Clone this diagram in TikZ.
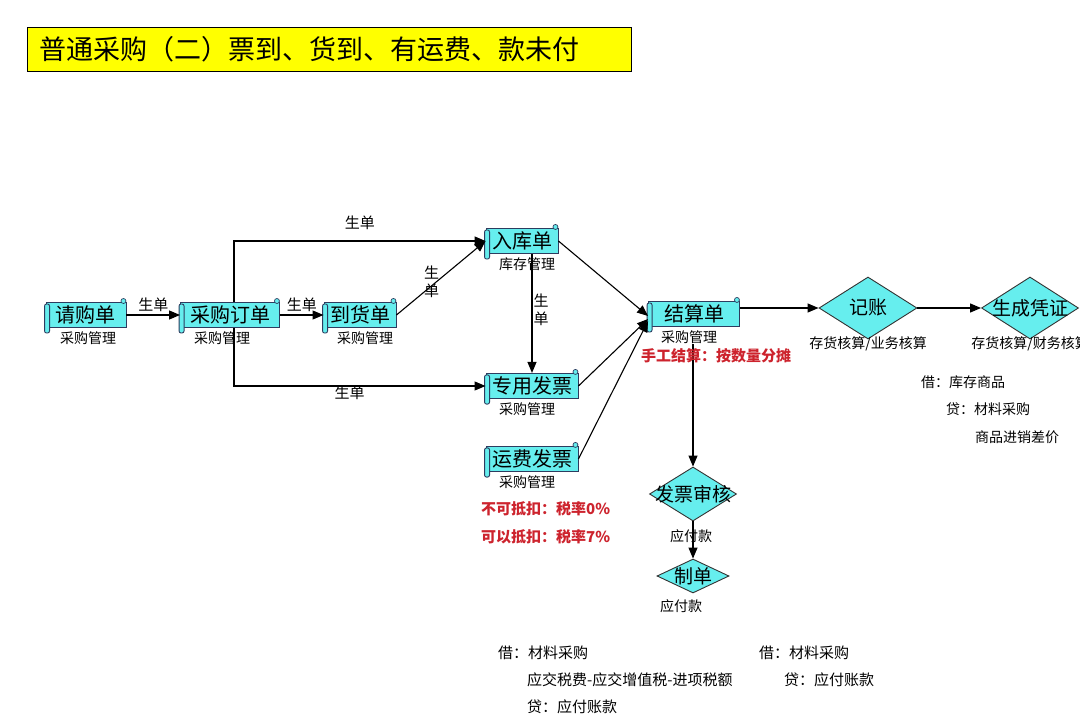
\documentclass[tikz,border=0pt]{standalone}
\usepackage{fontspec}
\setmainfont{Noto Sans CJK SC}
\usetikzlibrary{arrows.meta,positioning,shapes.geometric}

\definecolor{scrollfill}{RGB}{102,238,238}
\definecolor{scrollline}{RGB}{45,60,95}
\definecolor{titlefill}{RGB}{255,255,0}
\definecolor{notered}{RGB}{205,35,45}

\tikzset{
  scroll/.style={draw=scrollline, fill=scrollfill, line width=0.9pt, minimum height=25pt, inner xsep=6pt, font=\fontsize{20}{22}\selectfont},
  module/.style={font=\fontsize{14}{16}\selectfont, inner sep=1pt},
  decision/.style={diamond, draw=black!80, fill=scrollfill, line width=0.9pt, inner sep=-6pt, font=\fontsize{19}{21}\selectfont},
  flow/.style={line width=1.1pt, -{Triangle[length=11pt,width=9pt]}},
  edgelabel/.style={font=\fontsize{15}{18}\selectfont, inner sep=1pt},
  note/.style={font=\fontsize{14}{16}\selectfont, anchor=west, inner sep=0pt},
  rednote/.style={note, text=notered, font=\fontsize{15}{17}\selectfont\bfseries}
}

\begin{document}
\begin{tikzpicture}[x=1pt, y=-1pt]
  \useasboundingbox (0,0) rectangle (1080,722);
  \fill[white] (0,0) rectangle (1080,722);

  % title
  \node[draw, line width=1.2pt, fill=titlefill, anchor=north west, minimum height=44pt, text width=580pt, inner xsep=12pt, font=\fontsize{27}{29}\selectfont] (title) at (27,27) {普通采购（二）票到、货到、有运费、款未付};

  % documents
  \node[scroll, minimum width=80pt] (qg) at (86,315) {请购单};
  \node[scroll, minimum width=99pt] (cg) at (230,315) {采购订单};
  \node[scroll, minimum width=72pt] (dh) at (360,315) {到货单};
  \node[scroll, minimum width=71pt] (rk) at (522,241) {入库单};
  \node[scroll, minimum width=91pt] (zy) at (532,386) {专用发票};
  \node[scroll, minimum width=91pt] (yf) at (532,459) {运费发票};
  \node[scroll, minimum width=91pt] (js) at (694,314) {结算单};

  \foreach \n in {qg,cg,dh,rk,zy,yf,js} {
    \draw[scrollline, fill=scrollfill, line width=0.9pt, rounded corners=2pt]
      ([shift={(-1pt,-2pt)}]\n.north west) rectangle ([shift={(4pt,-5pt)}]\n.south west);
    \draw[scrollline, fill=scrollfill, line width=0.7pt] ([shift={(-3pt,1pt)}]\n.north east) circle (2.5pt);
  }

  \node[module, below=2pt of qg, xshift=2pt] (qgsub) {采购管理};
  \node[module, below=2pt of cg, xshift=-8pt] (cgsub) {采购管理};
  \node[module, below=2pt of dh, xshift=5pt] (dhsub) {采购管理};
  \node[module, below=2pt of rk, xshift=5pt] (rksub) {库存管理};
  \node[module, below=2pt of zy, xshift=-5pt] (zysub) {采购管理};
  \node[module, below=2pt of yf, xshift=-5pt] (yfsub) {采购管理};
  \node[module, below=2pt of js, xshift=-5pt] (jssub) {采购管理};

  % decisions
  \node[decision, shape aspect=1.6, minimum width=98pt, minimum height=62pt] (jz) at (868,308) {记账};
  \node[decision, shape aspect=1.6, minimum width=97pt, minimum height=62pt] (sc) at (1030,308) {生成凭证};
  \node[decision, shape aspect=1.6, minimum width=87pt, minimum height=54pt] (fp) at (693,494) {发票审核};
  \node[decision, shape aspect=2.1, minimum width=72pt, minimum height=34pt] (zd) at (693,576) {制单};

  \node[module, below=-4pt of jz] (jzsub) {存货核算/业务核算};
  \node[module, below=-4pt of sc] (scsub) {存货核算/财务核算};
  \node[module, below=7pt of fp, xshift=-2pt] (fpsub) {应付款};
  \node[module, below=5pt of zd, xshift=-12pt] (zdsub) {应付款};

  % connectors
  \draw[flow] (qg) -- node[edgelabel, above=2pt] {生单} (cg);
  \draw[flow] (cg) -- node[edgelabel, above=2pt] {生单} (dh);
  \draw[flow] ([xshift=4pt]cg.north) |- node[edgelabel, pos=0.75, above=10pt] {生单} (rk.west);
  \draw[flow] ([xshift=4pt]cg.south) |- node[edgelabel, pos=0.73, below=-2pt] {生单} (zy.west);
  \draw[flow] (dh.east) -- node[edgelabel, pos=0.45, xshift=-5pt, align=center] {生\\单} (rk.west);
  \draw[flow] (rk.south -| zy.north) -- node[edgelabel, pos=0.47, right=0pt, align=center] {生\\单} (zy.north);
  \draw[flow] (rk.east) -- ([yshift=-2pt]js.west);
  \draw[flow] (zy.east) -- ([yshift=-5pt]js.west);
  \draw[flow] (yf.east) -- ([yshift=-7pt]js.west);
  \draw[flow] (js.east |- jz.west) -- (jz.west);
  \draw[flow] (jz.east) -- (sc.west);
  \draw[flow] (jssub.south -| fp.north) -- (fp.north);
  \draw[flow] (fp.south) -- (zd.north);

  % notes
  \node[rednote] (jsnote) at (641,356) {手工结算：按数量分摊};
  \node[rednote] (taxa) at (481,509) {不可抵扣：税率0\%};
  \node[rednote] (taxb) at (481,537) {可以抵扣：税率7\%};

  \node[note] (jr1) at (921,382) {借：库存商品};
  \node[note] (jr2) at (946,409) {贷：材料采购};
  \node[note] (jr3) at (975,437) {商品进销差价};
  \node[note, font=\fontsize{15}{17}\selectfont] (jb1) at (498,653) {借：材料采购};
  \node[note, font=\fontsize{15}{17}\selectfont] (jb2) at (527,680) {应交税费-应交增值税-进项税额};
  \node[note, font=\fontsize{15}{17}\selectfont] (jb3) at (527,707) {贷：应付账款};
  \node[note, font=\fontsize{15}{17}\selectfont] (jc1) at (759,653) {借：材料采购};
  \node[note, font=\fontsize{15}{17}\selectfont] (jc2) at (784,680) {贷：应付账款};
\end{tikzpicture}
\end{document}
